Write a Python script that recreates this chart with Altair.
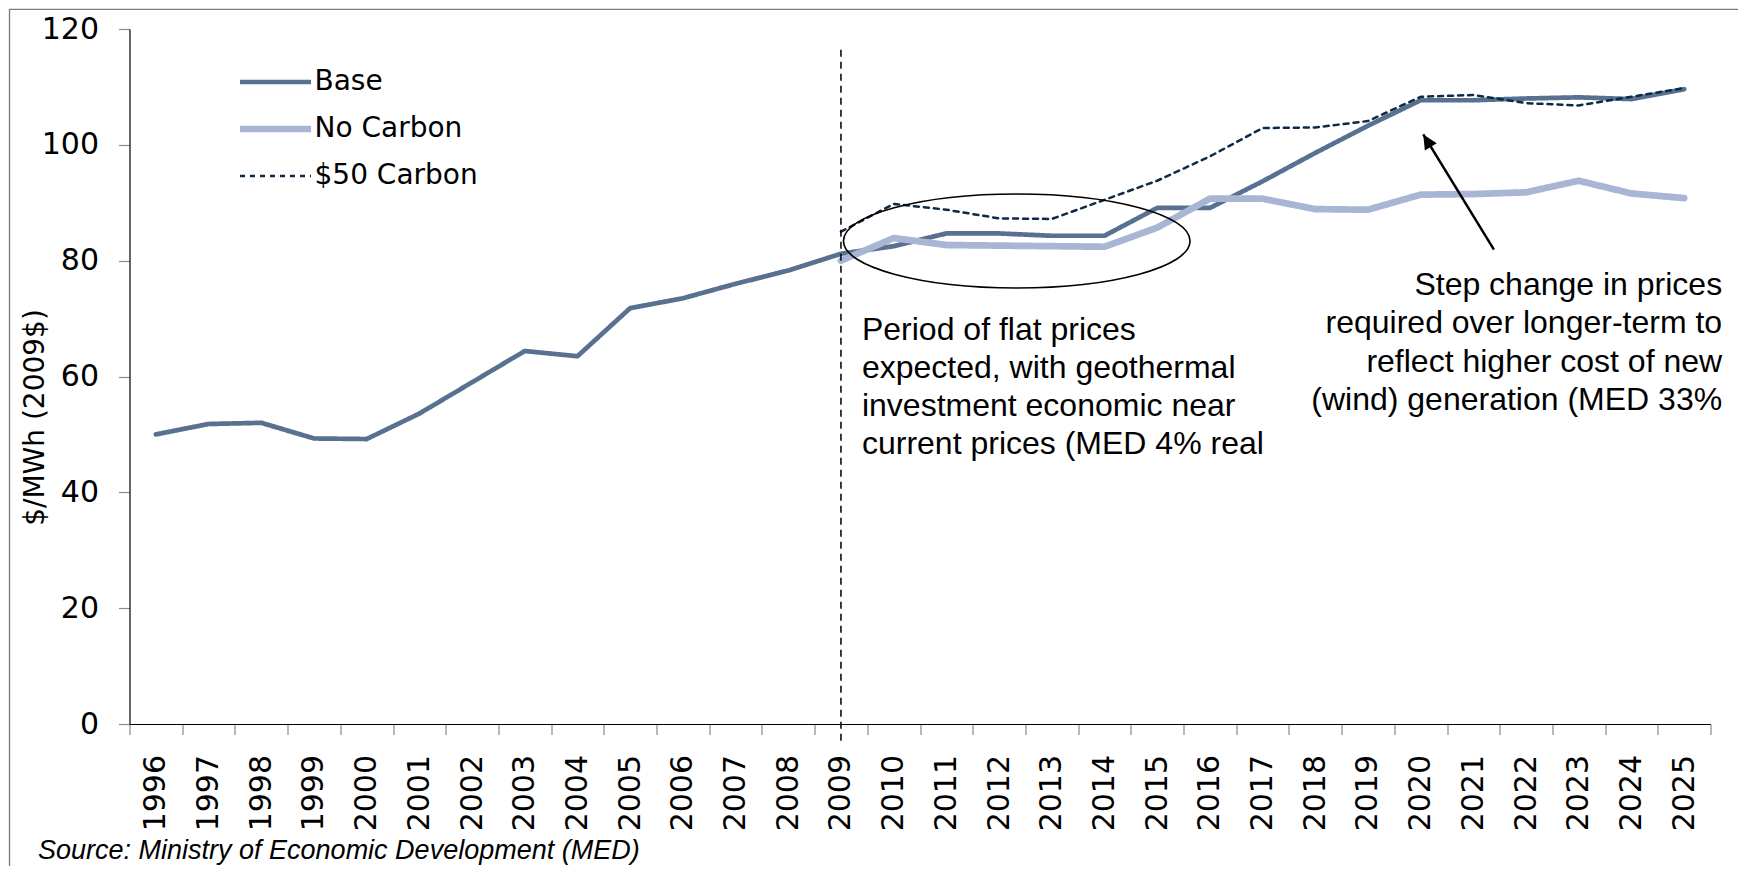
import altair as alt
import pandas as pd

# ---------------- data ----------------
years = list(range(1996, 2026))
base = [50.0, 51.8, 52.0, 49.3, 49.2, 53.6, 59.0, 64.4, 63.5, 71.8,
        73.5, 76.0, 78.3, 81.2, 82.5, 84.7, 84.7, 84.3, 84.3, 89.1,
        89.1, 93.7, 98.6, 103.3, 107.7, 107.7, 108.0, 108.2, 107.9, 109.6]
proj_years = list(range(2009, 2026))
no_carbon = [80.0, 83.9, 82.7, 82.6, 82.5, 82.4, 85.7, 90.7, 90.7, 88.9,
             88.8, 91.4, 91.5, 91.8, 93.8, 91.6, 90.8]
carbon50 = [85.0, 89.8, 88.8, 87.3, 87.2, 90.5, 93.8, 98.0, 102.9, 103.0,
            104.1, 108.3, 108.6, 107.2, 106.8, 108.3, 109.8]

series_names = ["Base", "No Carbon", "$50 Carbon"]
series_colors = ["#587190", "#A9B5D4", "#0E2A47"]
series_widths = [4.7, 6.7, 2.5]
series_dashes = [[1, 0], [1, 0], [5, 5]]
y_ticks = [0, 20, 40, 60, 80, 100, 120]

annot1_lines = ["Period of flat prices", "expected, with geothermal",
                "investment economic near", "current prices (MED 4% real"]
annot2_lines = ["Step change in prices", "required over longer-term to",
                "reflect higher cost of new", "(wind) generation (MED 33%"]
source_text = "Source: Ministry of Economic Development (MED)"
y_title = "$/MWh (2009$)"

# ---------------- tables ----------------
rows = []
for y, v in zip(years, base):
    rows.append({"year": y, "value": v, "series": "Base"})
for y, v in zip(proj_years, no_carbon):
    rows.append({"year": y, "value": v, "series": "No Carbon"})
for y, v in zip(proj_years, carbon50):
    rows.append({"year": y, "value": v, "series": "$50 Carbon"})
df = pd.DataFrame(rows)

W, H = 1581, 695

x_scale = alt.Scale(type="band", domain=years, paddingInner=0, paddingOuter=0)
y_scale = alt.Scale(domain=[0, 120], nice=False)

x_axis = alt.Axis(title=None, labelAngle=270, tickBand="extent", labelFontSize=30,
                  labelFont="DejaVu Sans", labelPadding=20, tickSize=10.5,
                  labelOverlap=False, labelColor="black", domainColor="black",
                  domainWidth=1.2, tickColor="#8a8a8a", tickWidth=1.2)
y_axis = alt.Axis(title=y_title, values=y_ticks, labelFontSize=30, labelFont="DejaVu Sans",
                  labelPadding=20, tickSize=11, grid=False, labelColor="black",
                  domainColor="black", domainWidth=1.2, tickColor="#8a8a8a", tickWidth=1.2,
                  titleFont="DejaVu Sans", titleFontSize=28, titleFontWeight="normal",
                  titleColor="black", titleAngle=270, titleX=-94.5, titleY=388,
                  titleAlign="center", titleBaseline="middle")

legend = alt.Legend(title=None, orient="none", legendX=107, legendY=38,
                    symbolType="stroke", symbolSize=5041, clipHeight=30, rowPadding=17,
                    labelFont="DejaVu Sans", labelFontSize=28, labelColor="black",
                    labelOffset=0, labelLimit=400, padding=0, symbolOpacity=1)

lines = alt.Chart(df).mark_line(strokeCap="round", strokeJoin="round").encode(
    x=alt.X("year:O", scale=x_scale, axis=x_axis, bandPosition=0.5),
    y=alt.Y("value:Q", scale=y_scale, axis=y_axis),
    color=alt.Color("series:N", scale=alt.Scale(domain=series_names, range=series_colors),
                    legend=legend),
    strokeDash=alt.StrokeDash("series:N", scale=alt.Scale(domain=series_names, range=series_dashes),
                              legend=legend),
    strokeWidth=alt.StrokeWidth("series:N", scale=alt.Scale(type="ordinal", domain=series_names,
                                                             range=series_widths),
                                legend=legend),
)

# vertical dashed marker at 2009
vline_df = pd.DataFrame({"year": [2009], "top": [116.4], "bottom": [-3.2]})
vline = alt.Chart(vline_df).mark_rule(color="black", strokeWidth=1.5, strokeDash=[7, 5]).encode(
    x=alt.X("year:O", bandPosition=0.5),
    y="top:Q",
    y2="bottom:Q",
)

# ellipse around the flat-price period
ellipse_df = pd.DataFrame({"year": [2012], "value": [83.4]})
ellipse = alt.Chart(ellipse_df).mark_point(
    shape="M-1,0A1,0.271,0,1,1,1,0A1,0.271,0,1,1,-1,0Z",
    size=346.6 ** 2, filled=False, color="black", strokeWidth=1.6, opacity=1, xOffset=17.7,
).encode(x=alt.X("year:O", bandPosition=0.5), y="value:Q")

# arrow
arrow_df = pd.DataFrame({"year": [2020], "year2": [2021], "head": [101.8], "tail": [81.9]})
arrow_line = alt.Chart(arrow_df).mark_rule(color="black", strokeWidth=2.5,
                                           xOffset=2.6, x2Offset=20.6).encode(
    x=alt.X("year:O", bandPosition=0.5),
    x2=alt.X2("year2", bandPosition=0.5),
    y="head:Q",
    y2="tail:Q",
)
arrow_head = alt.Chart(arrow_df).mark_point(
    shape="M0,0L0.48,1L-0.48,1Z", size=841, angle=328.6, filled=True,
    color="black", opacity=1, xOffset=2.6,
).encode(x=alt.X("year:O", bandPosition=0.5), y="head:Q")

# annotation texts
t1_df = pd.DataFrame({"year": [2009], "value": [66.3], "text": ["\n".join(annot1_lines)]})
text1 = alt.Chart(t1_df).mark_text(
    align="left", baseline="alphabetic", font="Liberation Sans", fontSize=32,
    lineHeight=38, lineBreak="\n", dx=21, color="black",
).encode(x=alt.X("year:O", bandPosition=0.5), y="value:Q", text="text:N")

t2_df = pd.DataFrame({"year": [2025], "value": [74.1], "text": ["\n".join(annot2_lines)]})
text2 = alt.Chart(t2_df).mark_text(
    align="right", baseline="alphabetic", font="Liberation Sans", fontSize=32,
    lineHeight=38.5, lineBreak="\n", dx=38, color="black",
).encode(x=alt.X("year:O", bandPosition=0.5), y="value:Q", text="text:N")

# source note and outer frame
one = pd.DataFrame({"k": [0]})
source = alt.Chart(one).mark_text(
    align="left", baseline="alphabetic", font="Liberation Sans", fontStyle="italic",
    fontSize=27, color="black",
).encode(x=alt.value(-91.5), y=alt.value(830), text=alt.value(source_text))

frame = alt.Chart(one).mark_rect(fillOpacity=0, stroke="#7a7a7a", strokeWidth=1.3).encode(
    x=alt.value(-120), x2=alt.value(W + 300), y=alt.value(-19.7), y2=alt.value(H + 400)
)

chart = alt.layer(
    frame, lines, vline, ellipse, arrow_line, arrow_head, text1, text2, source
).properties(
    width=W, height=H,
    autosize=alt.AutoSizeParams(type="none"),
    padding={"left": 121.5, "top": 21, "right": 27.5, "bottom": 142},
).configure_view(stroke=None)

chart.save("out.html", embed_options={"renderer": "svg", "actions": False})
